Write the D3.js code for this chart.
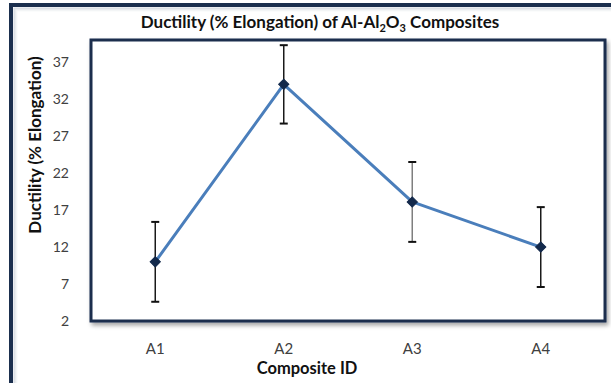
<!DOCTYPE html>
<html>
<head>
<meta charset="utf-8">
<script src="https://cdn.jsdelivr.net/npm/d3@7"></script>
<style>
  body { margin: 0; background: #fff; }
  svg { display: block; }
</style>
</head>
<body>
<div id="chart"></div>
<script>
const categories = ["A1", "A2", "A3", "A4"];
const ductility = [10, 34, 18.1, 12];
const errors = [5.4, 5.3, 5.4, 5.4];
const yTicks = [2, 7, 12, 17, 22, 27, 32, 37];

const W = 611, H = 383;
const plot = { left: 91, right: 605, top: 40, bottom: 321 };

const svg = d3.select("#chart")
  .append("svg")
  .attr("width", W)
  .attr("height", H)
  .style("font-family", "Lato, 'Open Sans', sans-serif");

const defs = svg.append("defs");
defs.append("filter")
  .attr("id", "shadow")
  .attr("x", "-5%").attr("y", "-5%")
  .attr("width", "110%").attr("height", "115%")
  .append("feDropShadow")
  .attr("dx", 2).attr("dy", 3)
  .attr("stdDeviation", 2)
  .attr("flood-color", "#000")
  .attr("flood-opacity", 0.35);

// outer chart frame with soft inner glow
[0.18, 0.12, 0.07, 0.03].forEach((op, i) => {
  svg.append("rect")
    .attr("x", 14 + i).attr("y", 8 + i)
    .attr("width", W).attr("height", H)
    .attr("fill", "none")
    .attr("stroke", "#1b3358")
    .attr("stroke-opacity", op)
    .attr("stroke-width", 1);
});
svg.append("rect")
  .attr("x", 11).attr("y", 5)
  .attr("width", W).attr("height", H)
  .attr("fill", "none")
  .attr("stroke", "#1b2f4e")
  .attr("stroke-width", 4);

const x = d3.scaleBand()
  .domain(categories)
  .range([plot.left, plot.right]);

const y = d3.scaleLinear()
  .domain([2, 40])
  .range([plot.bottom, plot.top]);

// plot area frame
svg.append("rect")
  .attr("x", plot.left).attr("y", plot.top)
  .attr("width", plot.right - plot.left)
  .attr("height", plot.bottom - plot.top)
  .attr("fill", "#fff")
  .attr("stroke", "#1b2f4e")
  .attr("stroke-width", 3)
  .attr("filter", "url(#shadow)");

// axes (labels only, no axis lines)
const yAxis = svg.append("g")
  .attr("transform", `translate(${plot.left - 8},0)`)
  .call(d3.axisLeft(y).tickValues(yTicks).tickSize(0).tickPadding(14));
yAxis.select(".domain").remove();
yAxis.selectAll("text")
  .style("font-size", "14px")
  .style("font-family", "Lato, sans-serif")
  .attr("fill", "#404040");

const xAxis = svg.append("g")
  .attr("transform", `translate(0,${plot.bottom + 22})`)
  .call(d3.axisBottom(x).tickSize(0).tickPadding(0));
xAxis.select(".domain").remove();
xAxis.selectAll("text")
  .style("font-size", "15px")
  .style("font-family", "Lato, sans-serif")
  .attr("fill", "#404040");

// data line
const pts = categories.map((c, i) => ({ c, v: ductility[i], e: errors[i] }));
const cx = d => x(d.c) + x.bandwidth() / 2;

svg.append("path")
  .datum(pts)
  .attr("fill", "none")
  .attr("stroke", "#4a7ebb")
  .attr("stroke-width", 3)
  .attr("stroke-linejoin", "round")
  .attr("d", d3.line().x(cx).y(d => y(d.v)));

// error bars
const eb = svg.selectAll("g.err")
  .data(pts)
  .enter()
  .append("g")
  .attr("class", "err");

eb.append("line")
  .attr("x1", cx).attr("x2", cx)
  .attr("y1", d => y(d.v + d.e))
  .attr("y2", d => y(d.v - d.e))
  .attr("stroke", (d, i) => i === 2 ? "#7f7f7f" : "#1a1a1a")
  .attr("stroke-width", 1.5);

eb.selectAll("line.cap")
  .data(d => [d.v + d.e, d.v - d.e].map(v => ({ c: d.c, v })))
  .enter()
  .append("line")
  .attr("class", "cap")
  .attr("x1", d => cx(d) - 4).attr("x2", d => cx(d) + 4)
  .attr("y1", d => y(d.v)).attr("y2", d => y(d.v))
  .attr("stroke", "#111")
  .attr("stroke-width", 2);

// markers
svg.selectAll("path.marker")
  .data(pts)
  .enter()
  .append("path")
  .attr("class", "marker")
  .attr("d", d3.symbol().type(d3.symbolSquare).size(52))
  .attr("transform", d => `translate(${cx(d)},${y(d.v)}) rotate(45)`)
  .attr("fill", "#13294b")
  .attr("stroke", "#13294b")
  .attr("stroke-width", 1);

// title
const title = svg.append("text")
  .attr("x", 320)
  .attr("y", 28)
  .attr("text-anchor", "middle")
  .style("font-size", "17px")
  .style("font-weight", "bold")
  .attr("fill", "#111");
title.append("tspan").text("Ductility (% Elongation) of Al-Al");
title.append("tspan").attr("dy", 4).style("font-size", "11px").text("2");
title.append("tspan").attr("dy", -4).text("O");
title.append("tspan").attr("dy", 4).style("font-size", "11px").text("3");
title.append("tspan").attr("dy", -4).text(" Composites");

// axis titles
svg.append("text")
  .attr("transform", "rotate(-90)")
  .attr("x", -145)
  .attr("y", 41)
  .attr("text-anchor", "middle")
  .style("font-size", "17px")
  .style("font-weight", "bold")
  .attr("fill", "#111")
  .text("Ductility (% Elongation)");

svg.append("text")
  .attr("x", 307)
  .attr("y", 374)
  .attr("text-anchor", "middle")
  .style("font-size", "16.5px")
  .style("font-weight", "bold")
  .attr("fill", "#111")
  .text("Composite ID");
</script>
</body>
</html>
